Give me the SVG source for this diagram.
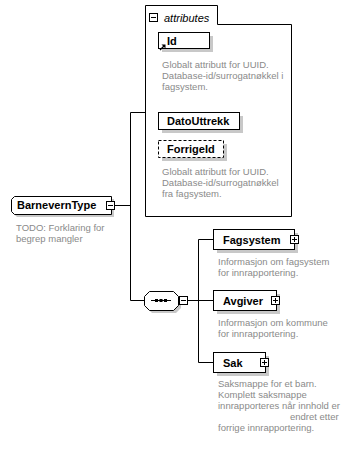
<svg xmlns="http://www.w3.org/2000/svg" width="351" height="449" viewBox="0 0 351 449">
  <style>
    .box { fill: #ffffff; stroke: #000000; stroke-width: 1; }
    .shadow { fill: #c8c8c8; stroke: none; }
    .wire { fill: none; stroke: #000000; stroke-width: 1; }
    .name { font-family: "Liberation Sans", Arial, sans-serif; font-size: 11px; font-weight: bold; fill: #000000; }
    .doc { font-family: "Liberation Sans", Arial, sans-serif; font-size: 9.5px; fill: #8a8a8a; }
    .tab { font-family: "Liberation Sans", Arial, sans-serif; font-size: 11px; font-style: italic; fill: #000000; }
    .dashed { stroke-dasharray: 3 2; }
  </style>
  <defs>
    <g id="plus">
      <rect x="0.5" y="0.5" width="8" height="8" class="box"/>
      <path d="M2,4.5 H7 M4.5,2 V7" stroke="#000" stroke-width="1"/>
    </g>
    <g id="minus">
      <rect x="0.5" y="0.5" width="8" height="8" class="box"/>
      <path d="M2,4.5 H7" stroke="#000" stroke-width="1"/>
    </g>
  </defs>

  <rect width="351" height="449" fill="#ffffff"/>

  <!-- connectors -->
  <g id="connectors">
    <path class="wire" d="M115,205.5 H130.5 M130.5,112.5 V300.5 M130.5,112.5 H145 M130.5,300.5 H144"/>
    <path class="wire" d="M188,300.5 H213 M198.5,239.5 V362.5 M198.5,239.5 H213 M198.5,362.5 H213"/>
  </g>

  <!-- attribute group -->
  <g id="attributes">
    <path class="wire" d="M145.5,5.5 H217.5 V24.5 H291.5 V216.5 H145.5 Z"/>
    <use href="#minus" x="149" y="13"/>
    <text class="tab" x="164" y="22">attributes</text>
  </g>

  <g id="attr-Id">
    <rect class="shadow" x="162" y="36" width="51" height="16"/>
    <rect class="box" x="158.5" y="32.5" width="51" height="16"/>
    <text class="name" x="167" y="45">Id</text>
    <path d="M160,50 L164,46" stroke="#000" stroke-width="1.2"/>
    <path d="M161.5,44.5 H165.5 V48.5 Z" fill="#000"/>
    <text class="doc" x="162" y="68">Globalt attributt for UUID.</text>
    <text class="doc" x="162" y="79">Database-id/surrogatnøkkel i</text>
    <text class="doc" x="162" y="90">fagsystem.</text>
  </g>

  <g id="attr-DatoUttrekk">
    <rect class="shadow" x="162" y="116" width="81" height="17"/>
    <rect class="box" x="158.5" y="112.5" width="81" height="17"/>
    <text class="name" x="167" y="125">DatoUttrekk</text>
  </g>

  <g id="attr-ForrigeId">
    <rect class="shadow" x="162" y="144" width="65" height="17"/>
    <rect class="box dashed" x="158.5" y="140.5" width="65" height="17"/>
    <text class="name" x="167" y="153">ForrigeId</text>
    <text class="doc" x="162" y="175">Globalt attributt for UUID.</text>
    <text class="doc" x="162" y="186">Database-id/surrogatnøkkel</text>
    <text class="doc" x="162" y="197">fra fagsystem.</text>
  </g>

  <!-- complex type -->
  <g id="BarnevernType">
    <path class="shadow" d="M17,199 H114 V217 H17 L14,214 V202 Z"/>
    <path class="box" d="M14.5,196.5 H111.5 V214.5 H14.5 L11.5,211.5 V199.5 Z"/>
    <text class="name" x="17" y="209">BarnevernType</text>
    <use href="#minus" x="106" y="201"/>
    <text class="doc" x="16" y="231">TODO: Forklaring for</text>
    <text class="doc" x="16" y="242">begrep mangler</text>
  </g>

  <!-- sequence compositor -->
  <g id="sequence">
    <path class="shadow" d="M152,294 H176 L181,299 V308 L176,313 H152 L147,308 V299 Z"/>
    <path class="box" d="M149.5,291.5 H173.5 L178.5,296.5 V305.5 L173.5,310.5 H149.5 L144.5,305.5 V296.5 Z"/>
    <path d="M151,300.5 H171" stroke="#000" stroke-width="1"/>
    <rect x="155" y="299" width="3" height="3" fill="#000"/>
    <rect x="159.5" y="299" width="3" height="3" fill="#000"/>
    <rect x="164" y="299" width="3" height="3" fill="#000"/>
    <use href="#minus" x="179" y="296"/>
  </g>

  <!-- child elements -->
  <g id="Fagsystem">
    <rect class="shadow" x="217" y="233" width="81" height="20"/>
    <rect class="box" x="213.5" y="229.5" width="81" height="20"/>
    <text class="name" x="223" y="243.5">Fagsystem</text>
    <use href="#plus" x="290" y="235"/>
    <text class="doc" x="218" y="265">Informasjon om fagsystem</text>
    <text class="doc" x="218" y="276">for innrapportering.</text>
  </g>

  <g id="Avgiver">
    <rect class="shadow" x="217" y="294" width="63" height="20"/>
    <rect class="box" x="213.5" y="290.5" width="63" height="20"/>
    <text class="name" x="223" y="304.5">Avgiver</text>
    <use href="#plus" x="271" y="296"/>
    <text class="doc" x="218" y="326">Informasjon om kommune</text>
    <text class="doc" x="218" y="337">for innrapportering.</text>
  </g>

  <g id="Sak">
    <rect class="shadow" x="217" y="356" width="52" height="20"/>
    <rect class="box" x="213.5" y="352.5" width="52" height="20"/>
    <text class="name" x="223" y="366.5">Sak</text>
    <use href="#plus" x="260" y="358"/>
    <text class="doc" x="218" y="387">Saksmappe for et barn.</text>
    <text class="doc" x="218" y="398">Komplett saksmappe</text>
    <text class="doc" x="218" y="409">innrapporteres når innhold er</text>
    <text class="doc" x="290" y="420">endret etter</text>
    <text class="doc" x="218" y="431">forrige innrapportering.</text>
  </g>
</svg>
